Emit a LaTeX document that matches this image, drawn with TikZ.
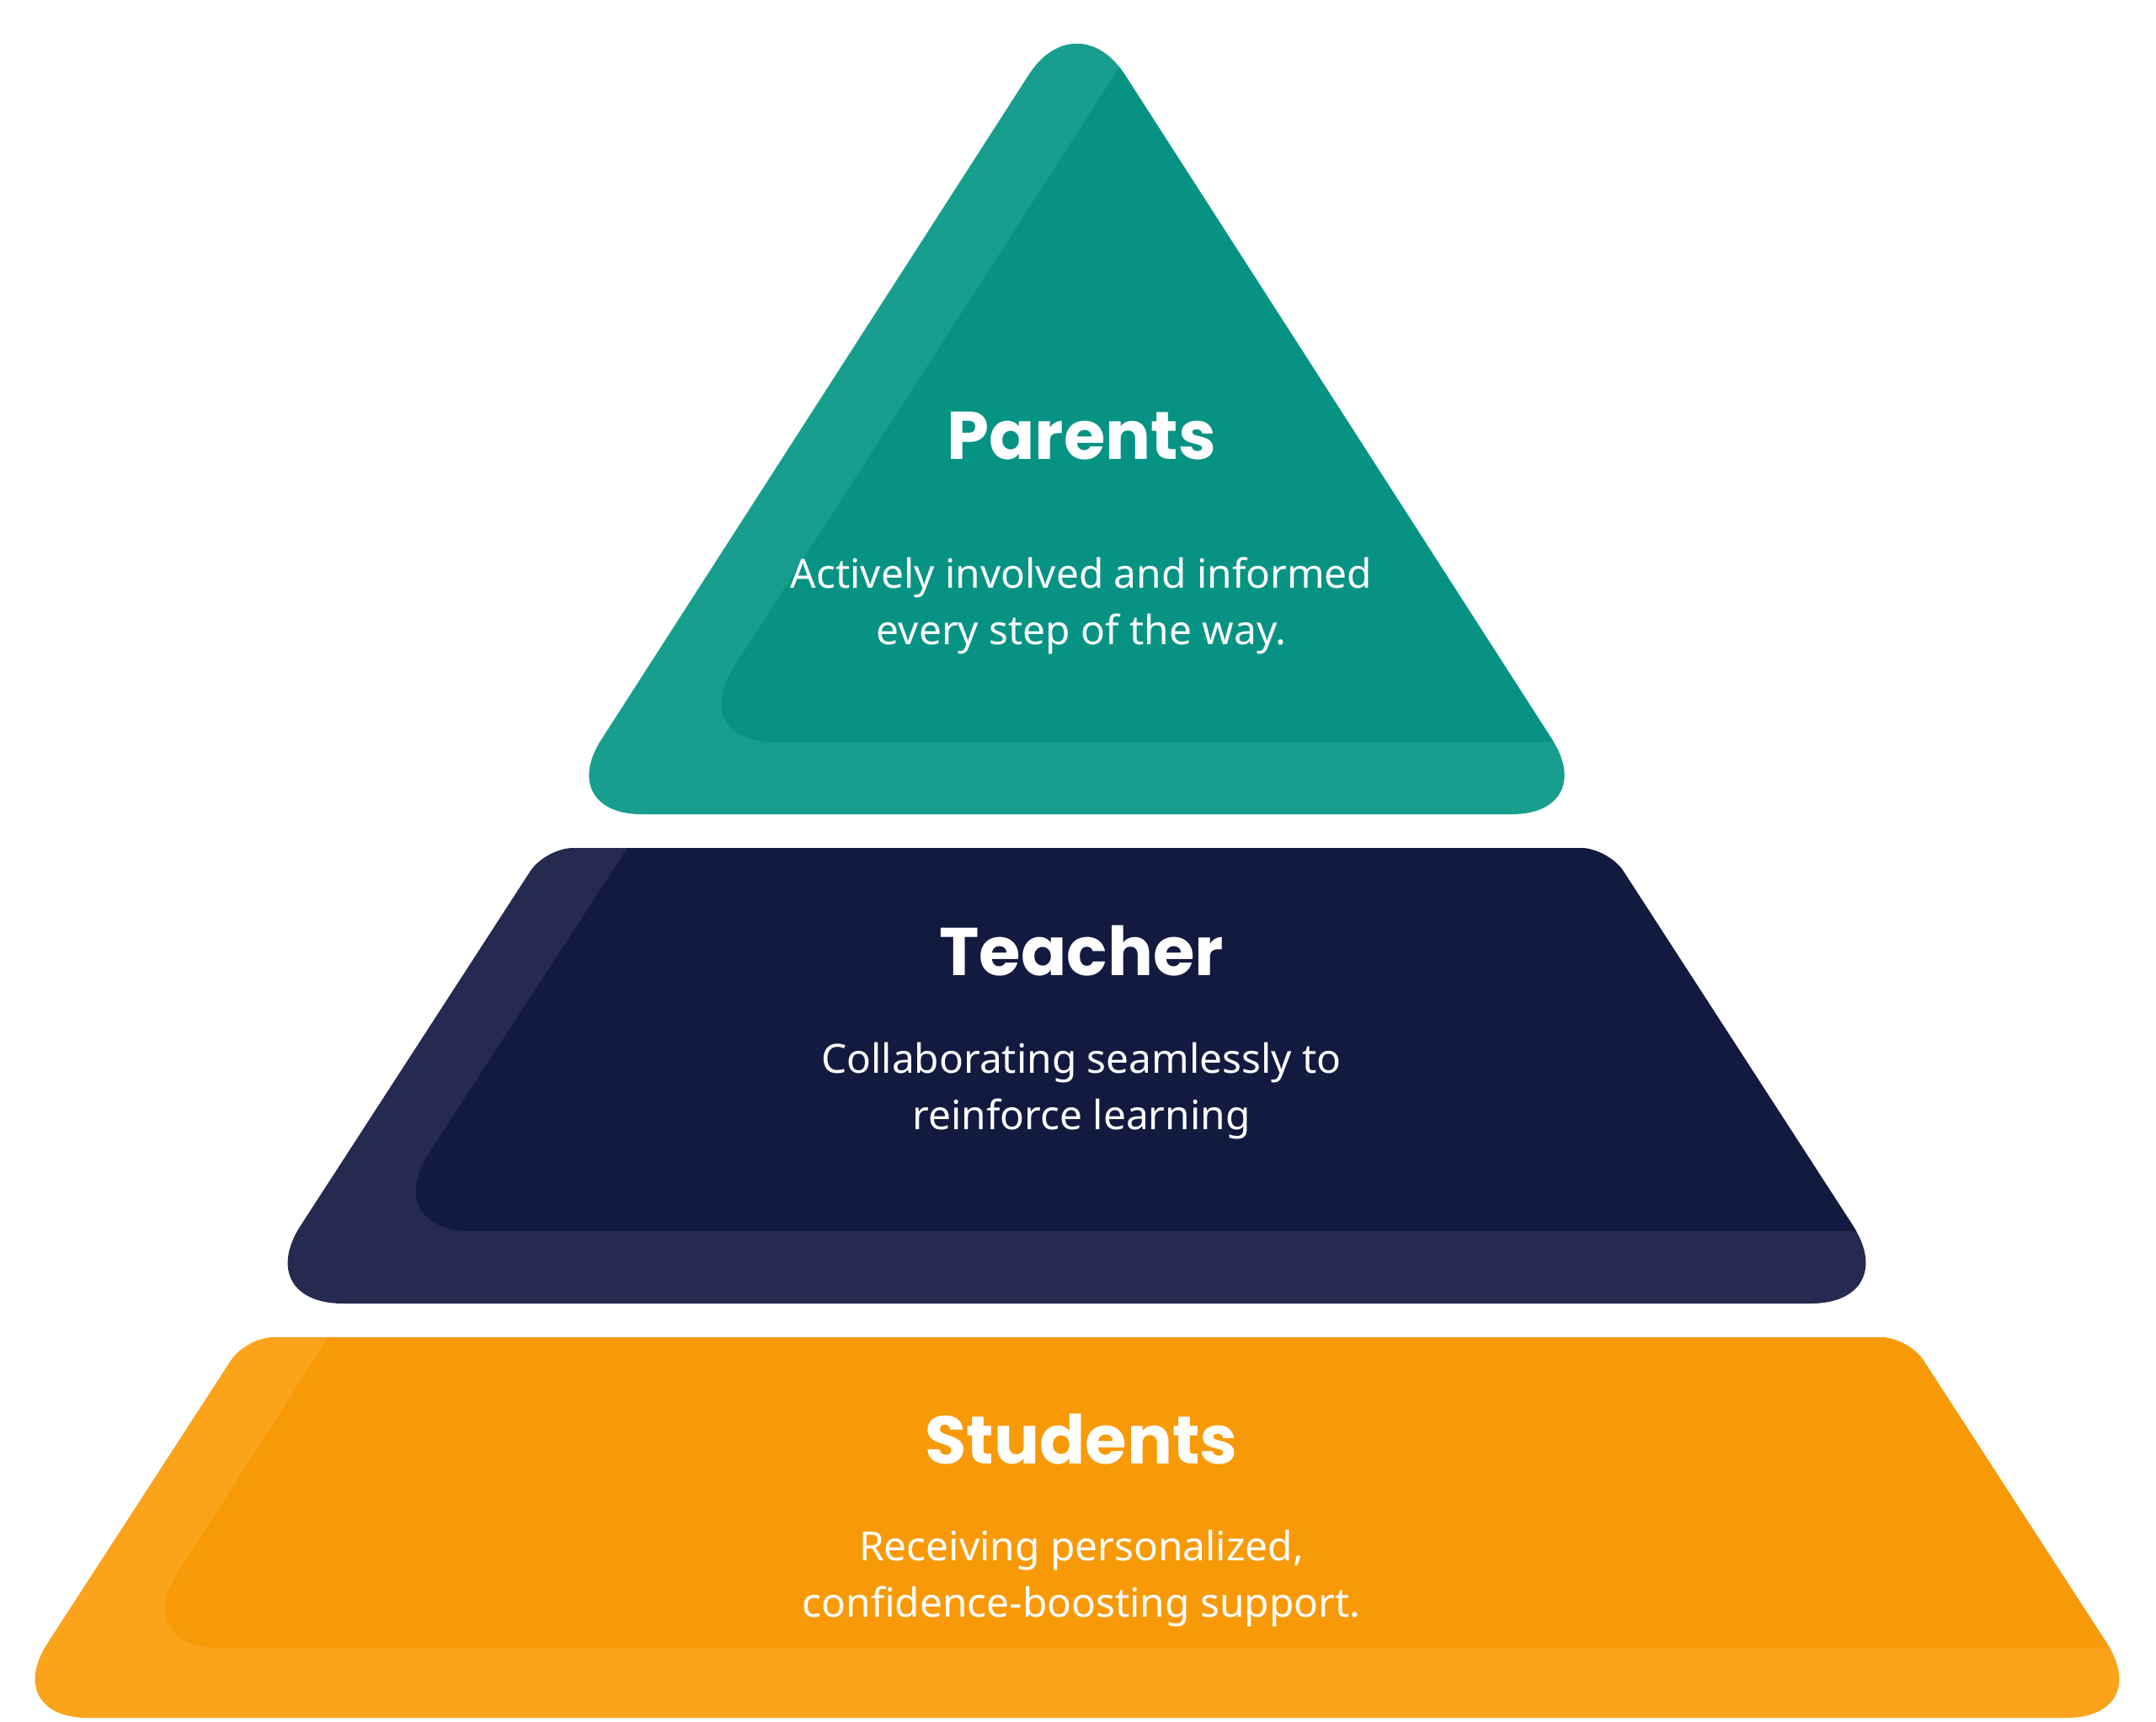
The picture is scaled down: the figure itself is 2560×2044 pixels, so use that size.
\documentclass[tikz,border=0pt]{standalone}
\usepackage{fontspec}
\setmainfont{Noto Sans}
\newfontfamily\headfont{Poppins}

\definecolor{parentsLight}{HTML}{189E8E}
\definecolor{parentsDark}{HTML}{069384}
\definecolor{teacherLight}{HTML}{252A50}
\definecolor{teacherDark}{HTML}{131A40}
\definecolor{studentsLight}{HTML}{FAA31B}
\definecolor{studentsDark}{HTML}{F89A08}

\begin{document}
\begin{tikzpicture}[
        x=0.01cm, y=-0.01cm,
        heading/.style={text=white, inner sep=0pt, anchor=base, font=\headfont\bfseries\fontsize{22.8}{28}\selectfont},
        body/.style={text=white, inner sep=0pt, anchor=base, align=center, font=\fontsize{13.6}{18.8}\selectfont}
    ]
    \useasboundingbox (0,0) rectangle (2560,2044);

    % parents
    \fill[parentsLight, rounded corners=1.05cm] (1278.6,0) -- (1900,967) -- (657,967) -- cycle;
    \begin{scope}
        \clip[rounded corners=1.05cm] (1278.6,0) -- (1900,967) -- (657,967) -- cycle;
        \fill[parentsDark, rounded corners=1.05cm] (1509,-200) -- (814,881.4) -- (2300,881.4) -- (2300,-200) -- cycle;
    \end{scope}

    % teacher
    \fill[teacherLight] (1278,1007) [rounded corners=0.33cm] -- (1909.7,1007) [rounded corners=1.1cm] -- (2260,1548) -- (297,1548) [rounded corners=0.33cm] -- (647.5,1007) -- cycle;
    \begin{scope}
        \clip (1278,1007) [rounded corners=0.33cm] -- (1909.7,1007) [rounded corners=1.1cm] -- (2260,1548) -- (297,1548) [rounded corners=0.33cm] -- (647.5,1007) -- cycle;
        \fill[teacherDark, rounded corners=1.1cm] (810,907) -- (449,1462) -- (2400,1462) -- (2400,907) -- cycle;
    \end{scope}

    % students
    \fill[studentsLight] (1279,1588) [rounded corners=0.33cm] -- (2266,1588) [rounded corners=1.05cm] -- (2559,2040) -- (-1,2040) [rounded corners=0.33cm] -- (292,1588) -- cycle;
    \begin{scope}
        \clip (1279,1588) [rounded corners=0.33cm] -- (2266,1588) [rounded corners=1.05cm] -- (2559,2040) -- (-1,2040) [rounded corners=0.33cm] -- (292,1588) -- cycle;
        \fill[studentsDark, rounded corners=1.05cm] (454,1488) -- (154,1957) -- (2700,1957) -- (2700,1488) -- cycle;
    \end{scope}

    \node[heading] (parents) at (1284,545) {Parents};
    \node[body] (parentsText) at (1284,765) {Actively involved and informed\\every step of the way.};

    \node[heading] (teacher) at (1284,1158) {Teacher};
    \node[body] (teacherText) at (1284,1341) {Collaborating seamlessly to\\reinforce learning};

    \node[heading] (students) at (1284,1738) {Students};
    \node[body] (studentsText) at (1284,1920) {Receiving personalized,\\confidence-boosting support.};
\end{tikzpicture}
\end{document}
